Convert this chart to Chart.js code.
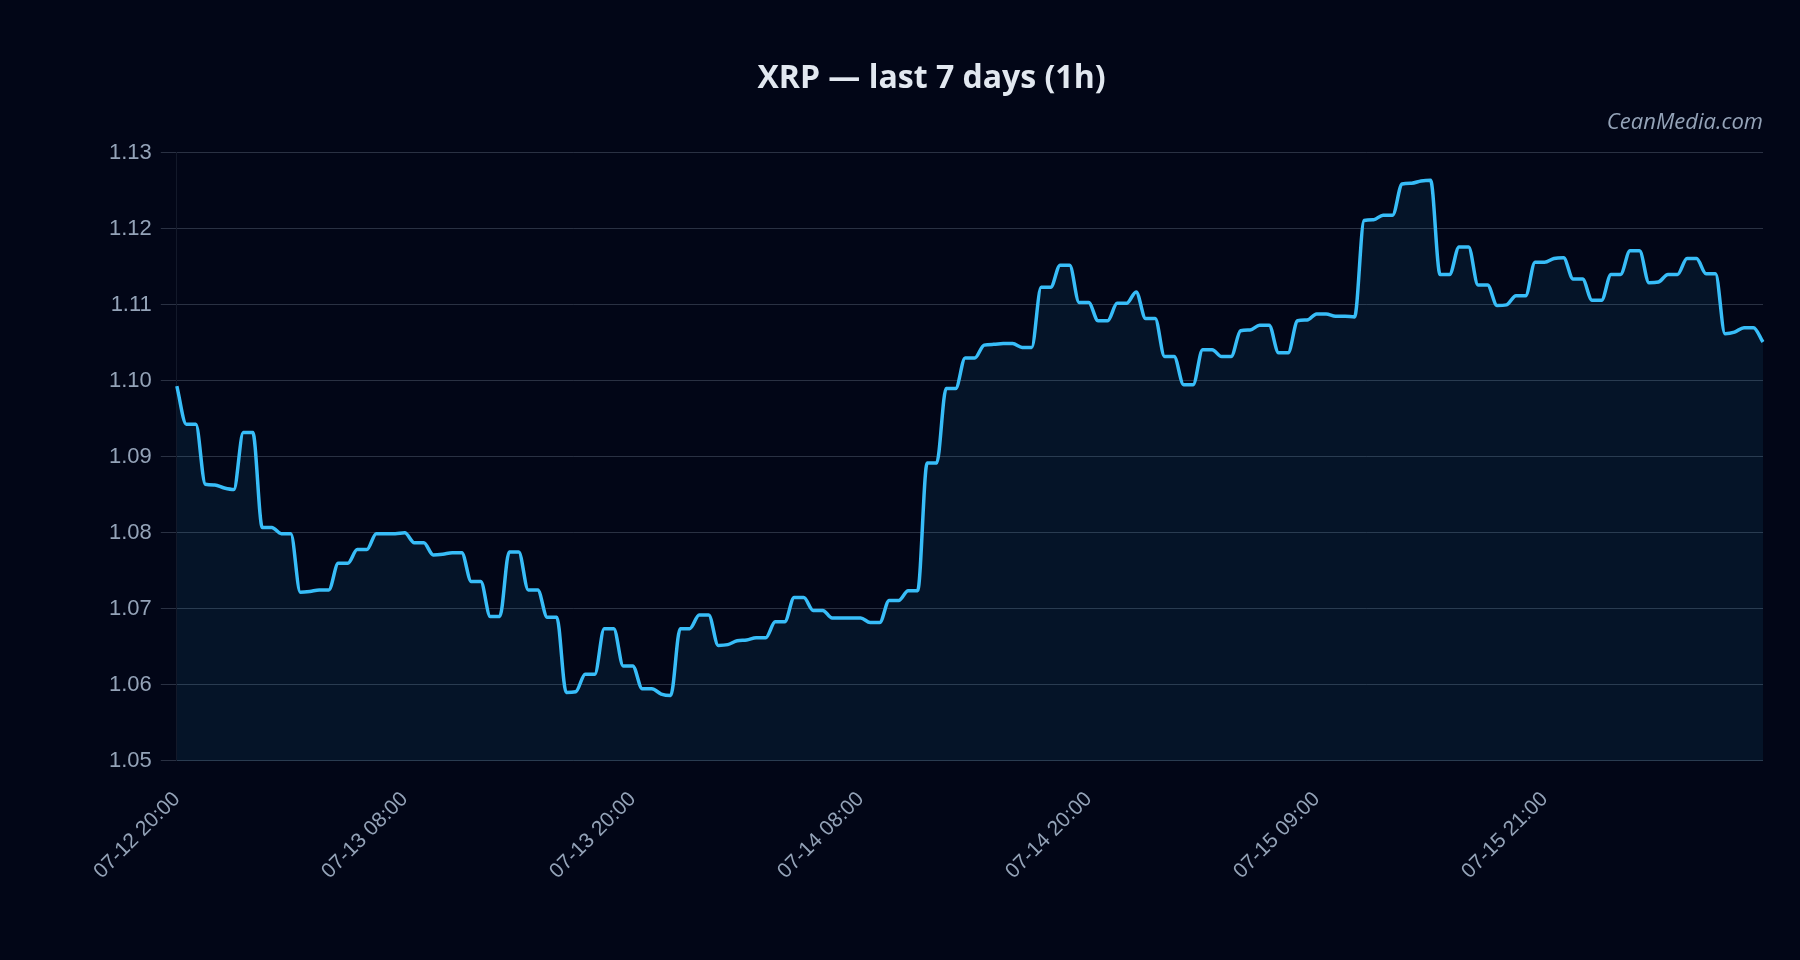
<!DOCTYPE html>
<html>
<head>
<meta charset="utf-8">
<title>XRP — last 7 days (1h)</title>
<script src="https://cdn.jsdelivr.net/npm/chart.js@4.4.1/dist/chart.umd.min.js"></script>
<style>
  html, body { margin: 0; padding: 0; background: #020617; }
  #wrap { width: 1800px; height: 960px; }
</style>
</head>
<body>
<div id="wrap"><canvas id="chart" width="1800" height="960"></canvas></div>
<script>
// tick labels shown on the x axis, one every 24 points
const tickLabels = ['07-12 20:00', '07-13 08:00', '07-13 20:00', '07-14 08:00', '07-14 20:00', '07-15 09:00', '07-15 21:00'];
const pointsPerTick = 24;

// XRP price
const prices = [
    1.0993,
    1.0943, 1.0943, 1.0864, 1.0863, 1.0859, 1.0857, 1.0932, 1.0932, 1.0807, 1.0807,
    1.0799, 1.0799, 1.0722, 1.0723, 1.0725, 1.0725, 1.0760, 1.0760, 1.0778, 1.0778,
    1.0799, 1.0799, 1.0799, 1.0800, 1.0787, 1.0787, 1.0771, 1.0772, 1.0774, 1.0774,
    1.0736, 1.0736, 1.0690, 1.0690, 1.0775, 1.0775, 1.0725, 1.0725, 1.0689, 1.0689,
    1.0590, 1.0591, 1.0614, 1.0614, 1.0674, 1.0674, 1.0625, 1.0625, 1.0595, 1.0595,
    1.0588, 1.0586, 1.0674, 1.0674, 1.0692, 1.0692, 1.0652, 1.0653, 1.0658, 1.0659,
    1.0662, 1.0662, 1.0683, 1.0683, 1.0715, 1.0715, 1.0698, 1.0698, 1.0688, 1.0688,
    1.0688, 1.0688, 1.0682, 1.0682, 1.0711, 1.0711, 1.0724, 1.0724, 1.0892, 1.0892,
    1.0990, 1.0990, 1.1030, 1.1030, 1.1047, 1.1048, 1.1049, 1.1049, 1.1044, 1.1044,
    1.1123, 1.1123, 1.1152, 1.1152, 1.1103, 1.1103, 1.1079, 1.1079, 1.1102, 1.1102,
    1.1117, 1.1082, 1.1082, 1.1032, 1.1032, 1.0995, 1.0995, 1.1041, 1.1041, 1.1032,
    1.1032, 1.1066, 1.1067, 1.1073, 1.1073, 1.1037, 1.1037, 1.1079, 1.1080, 1.1088,
    1.1088, 1.1085, 1.1085, 1.1084, 1.1211, 1.1212, 1.1218, 1.1218, 1.1259, 1.1260,
    1.1263, 1.1264, 1.1140, 1.1140, 1.1176, 1.1176, 1.1126, 1.1126, 1.1099, 1.1100,
    1.1112, 1.1112, 1.1156, 1.1156, 1.1161, 1.1162, 1.1134, 1.1134, 1.1106, 1.1106,
    1.1140, 1.1140, 1.1171, 1.1171, 1.1129, 1.1130, 1.1140, 1.1140, 1.1161, 1.1161,
    1.1141, 1.1141, 1.1062, 1.1064, 1.1070, 1.1070,
    1.1051
];

// y axis range
const yMin = 1.05;
const yMax = 1.13;
const yStep = 0.01;

const labels = prices.map((p, i) => (i % pointsPerTick === 0 ? tickLabels[i / pointsPerTick] : ''));

const muted = '#94a3b8';
const gridColor = 'rgba(148, 163, 184, 0.28)';

let ctx = document.getElementById('chart');

new Chart(ctx, {
    type: 'line',
    data: {
        labels: labels,
        datasets: [{
            label: 'XRP',
            data: prices,
            borderColor: '#38bdf8',
            backgroundColor: 'rgba(56, 189, 248, 0.08)',
            borderWidth: 3.5,
            pointRadius: 0,
            fill: 'start',
            cubicInterpolationMode: 'monotone'
        }]
    },
    options: {
        responsive: false,
        animation: false,
        devicePixelRatio: 1,
        layout: {padding: {top: 50, left: 100, right: 37, bottom: 58}},
        plugins: {
            legend: {display: false},
            tooltip: {enabled: false},
            title: {
                display: true,
                text: 'XRP — last 7 days (1h)',
                color: '#e2e8f0',
                font: {family: 'Open Sans', size: 32, weight: 'bold'},
                padding: {top: 10, bottom: 10}
            },
            subtitle: {
                display: true,
                text: 'CeanMedia.com',
                align: 'end',
                color: muted,
                font: {family: 'Open Sans', size: 22, style: 'italic'},
                padding: {top: 1, bottom: 17}
            }
        },
        scales: {
            x: {
                grid: {display: false},
                border: {display: false},
                ticks: {
                    color: muted,
                    font: {size: 21},
                    autoSkip: false,
                    minRotation: 45,
                    maxRotation: 45,
                    padding: 18
                }
            },
            y: {
                min: yMin,
                max: yMax,
                grid: {color: gridColor, tickLength: 16},
                border: {color: 'rgba(148, 163, 184, 0.12)'},
                ticks: {
                    color: muted,
                    font: {size: 22},
                    stepSize: yStep,
                    padding: 9,
                    callback: (v) => v.toFixed(2)
                }
            }
        }
    }
});
</script>
</body>
</html>
